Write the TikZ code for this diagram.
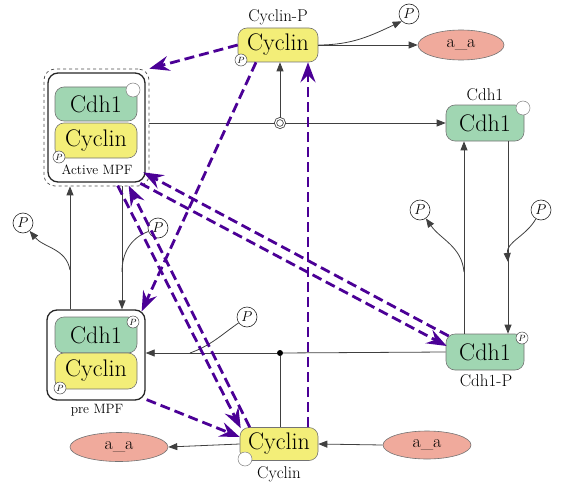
\documentclass[tikz,border=0pt]{standalone}
\usetikzlibrary{arrows.meta,shapes.geometric}
\definecolor{cgreen}{RGB}{160,214,178}
\definecolor{cyell}{RGB}{243,238,120}
\definecolor{csalm}{RGB}{240,170,156}
\definecolor{cpurp}{RGB}{75,0,150}
\begin{document}
\begin{tikzpicture}[x=1pt,y=-1pt,
  box/.style={rectangle,rounded corners=9pt,draw=black!55,line width=0.6pt,inner sep=0pt,font=\fontsize{24}{24}\selectfont},
  gbox/.style={box,fill=cgreen},
  ybox/.style={box,fill=cyell},
  ell/.style={ellipse,draw=black!55,line width=0.6pt,fill=csalm,inner sep=0pt,font=\fontsize{18}{18}\selectfont},
  cplx/.style={rectangle,rounded corners=10pt,draw=black!85,line width=1.3pt,inner sep=0pt},
  cplxd/.style={rectangle,rounded corners=11pt,draw=black!70,line width=0.7pt,dashed,inner sep=0pt},
  pbig/.style={circle,draw=black!85,fill=white,inner sep=0pt,minimum size=20pt,line width=0.6pt,font=\fontsize{14}{14}\selectfont},
  psmall/.style={circle,draw=black!70,fill=white,inner sep=0pt,minimum size=12pt,line width=0.5pt,font=\fontsize{9}{9}\selectfont},
  wcirc/.style={circle,draw=black!50,fill=white,inner sep=0pt,minimum size=14pt,line width=0.5pt},
  lab/.style={inner sep=0pt,font=\fontsize{17}{17}\selectfont},
  slab/.style={inner sep=0pt,font=\fontsize{13.5}{13.5}\selectfont},
  con/.style={draw=black!75,line width=0.8pt},
  arr/.style={con,-{Triangle[length=9pt,width=7pt]}},
  pd/.style={draw=cpurp,line width=2.8pt,dash pattern=on 10pt off 5pt,-{Stealth[length=20pt,width=15pt,inset=7pt]}},
]
\useasboundingbox (0,0) rectangle (561,484);

% Active MPF complex
\node[cplxd,minimum width=105pt,minimum height=117pt] (amout) at (96.5,127.5) {};
\node[cplx,minimum width=97pt,minimum height=109pt] (amin) at (96.5,127.5) {};
\node[gbox,minimum width=82pt,minimum height=34pt] (amcdh) at (96,104) {Cdh1};
\node[ybox,minimum width=82pt,minimum height=35pt] (amcyc) at (96,140.5) {Cyclin};
\node[wcirc] (amwc) at (133,90) {};
\node[psmall] (amp) at (59,157) {$P$};
\node[slab] (amlab) at (97,170) {Active MPF};

% pre MPF complex
\node[cplx,minimum width=98pt,minimum height=90pt] (preout) at (96,355) {};
\node[gbox,minimum width=82pt,minimum height=36pt] (precdh) at (96,335) {Cdh1};
\node[ybox,minimum width=82pt,minimum height=36pt] (precyc) at (96,371) {Cyclin};
\node[psmall] (prep1) at (133,322) {$P$};
\node[psmall] (prep2) at (60,388) {$P$};
\node[slab] (prelab) at (97,410) {pre MPF};

% Cyclin-P
\node[ybox,minimum width=80pt,minimum height=34pt] (cycp) at (278,45) {Cyclin};
\node[lab] (cycplab) at (278,17) {Cyclin-P};
\node[psmall] (cycpp) at (241,60) {$P$};
\node[pbig] (pn1) at (409,14) {$P$};
\node[ell,minimum width=86pt,minimum height=30pt] (aa1) at (461,45) {a\_a};

% Cdh1 (right)
\node[gbox,minimum width=78pt,minimum height=36pt] (cdh1) at (485,123) {Cdh1};
\node[lab] (cdh1lab) at (485,95) {Cdh1};
\node[wcirc] (cdh1wc) at (523,108) {};

% Cdh1-P
\node[gbox,minimum width=78pt,minimum height=36pt] (cdh1p) at (485,352) {Cdh1};
\node[lab] (cdh1plab) at (486,381) {Cdh1-P};
\node[psmall] (cdh1pp) at (522,338) {$P$};

% Cyclin (bottom)
\node[ybox,minimum width=78pt,minimum height=33pt] (cycb) at (279,444) {Cyclin};
\node[wcirc] (cycbwc) at (245,459) {};
\node[lab] (cycblab) at (279,474) {Cyclin};
\node[ell,minimum width=98pt,minimum height=29pt] (aa2) at (119,447) {a\_a};
\node[ell,minimum width=88pt,minimum height=28pt] (aa3) at (427,445) {a\_a};

% P markers
\node[pbig] (pr1) at (420,210) {$P$};
\node[pbig] (pr2) at (541,210) {$P$};
\node[pbig] (pl1) at (23,223) {$P$};
\node[pbig] (pl2) at (158,228) {$P$};
\node[pbig] (pm) at (247,317) {$P$};

% modulator and dot
\node[circle,draw=black!75,double=white,double distance=1.2pt,line width=0.8pt,fill=white,inner sep=0pt,minimum size=9pt] (mod) at (280,123) {};
\node[circle,fill=black,inner sep=0pt,minimum size=6pt] (dt) at (280,353) {};

% helper coordinates
\coordinate (l1) at (70,0);
\coordinate (l2) at (122,0);
\coordinate (c1) at (464,272);
\coordinate (c2) at (508,262);
\coordinate (c3) at (70,270);
\coordinate (c4) at (122,272);
\coordinate (c5) at (190,353);

% black connectors
\draw[arr] (cycp.east) -- (aa1.west);
\draw[arr] (cycp.east) to[out=0,in=205] (pn1.south west);
\draw[con] (amout.east |- mod.west) -- (mod.west);
\draw[arr] (mod.east) -- (cdh1.west);
\draw[arr] (mod.north) -- (mod |- cycp.south);
\draw[arr] ([xshift=-21pt]cdh1p.north) -- ([xshift=-21pt]cdh1.south);
\draw[arr] ([xshift=23pt]cdh1.south) -- ([xshift=23pt]cdh1p.north);
\draw[arr] (c1) to[out=95,in=-55] (pr1);
\draw[arr] (pr2) to[out=-120,in=95] (c2);
\draw[arr] (preout.north -| l1) -- (amout.south -| l1);
\draw[arr] (amout.south -| l2) -- (preout.north -| l2);
\draw[arr] (c3) to[out=100,in=-50] (pl1);
\draw[con] (pl2) to[out=200,in=90] (c4);
\draw[con] (cdh1p.west) -- (dt);
\draw[arr] (dt) -- (dt -| preout.east);
\draw[con] (cycb.north -| dt) -- (dt);
\draw[con] (c5) to[out=20,in=215] (pm);
\draw[arr] (aa3.west) -- (cycb.east);
\draw[arr] (cycb.west) -- (aa2.east);

% purple dashed influences
\draw[pd] (cycp.west) -- (amout.north east);
\draw[pd] ([xshift=-22pt]cycp.south) -- ([shift={(-4pt,-2pt)}]preout.north east);
\draw[pd] ([shift={(3pt,16pt)}]cdh1p.west) -- ([shift={(-6pt,14pt)}]amout.south east);
\draw[pd] ([shift={(-9pt,3pt)}]amout.south east) -- ([shift={(1pt,6pt)}]cdh1p.west);
\draw[pd] ([shift={(-28pt,-3pt)}]amin.south east) -- ([shift={(1pt,-1pt)}]cycb.north west);
\draw[pd] ([xshift=10pt]cycb.north west) -- ([shift={(-17pt,-3pt)}]amin.south east);
\draw[pd] ([xshift=29pt]cycb.north) -- ([xshift=30pt]cycp.south);
\draw[pd] ([shift={(1pt,1pt)}]preout.south east) -- ([yshift=7pt]cycb.west);
\end{tikzpicture}
\end{document}
